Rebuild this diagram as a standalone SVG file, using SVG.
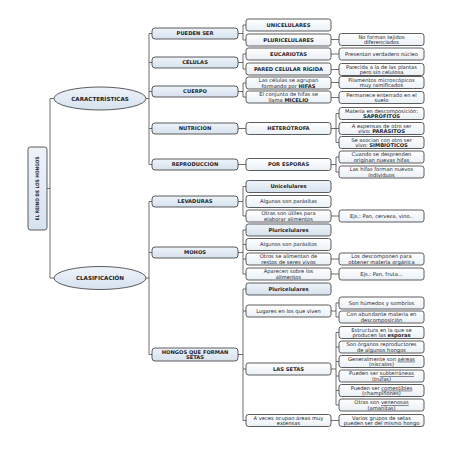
<svg xmlns="http://www.w3.org/2000/svg" width="453" height="453" viewBox="0 0 453 453">
<defs>
<linearGradient id="gw" x1="0" y1="0" x2="0" y2="1"><stop offset="0" stop-color="#ffffff"/><stop offset="1" stop-color="#eaf0f6"/></linearGradient>
<linearGradient id="gb" x1="0" y1="0" x2="0" y2="1"><stop offset="0" stop-color="#eef3f9"/><stop offset="1" stop-color="#d6e2ee"/></linearGradient>
</defs>
<style>
rect,ellipse{stroke:#4a4a4a;stroke-width:0.9}
.l2{fill:url(#gb)}
.bx{fill:url(#gw)}
.hd{fill:url(#gb)}
text{font-family:"DejaVu Sans",Verdana,sans-serif;fill:#1e1e2a;text-anchor:middle;font-size:5.2px}
.b{font-weight:bold}
.u{text-decoration:underline}
#conn path{fill:none;stroke:#4a4a4a;stroke-width:0.8}
</style>
<rect width="453" height="453" fill="#ffffff" style="stroke:none"/>

<g id="conn">
<path d="M47,188.5H50M50,98.5V278M50,98.5H54M50,278H54"/>
<path d="M146,98.5H149M149,33.5V164.5M149,33.5H152M149,62.5H152M149,91.5H152M149,128.5H152M149,164.5H152"/>
<path d="M146,278H149M149,201.5V354.5M149,201.5H152M149,252.5H152M149,354.5H152"/>
<path d="M238,33.5H243M243,25V40M243,25H246M243,40H246"/>
<path d="M238,62.5H243M243,54V69M243,54H246M243,69H246"/>
<path d="M238,91.5H243M243,83V97M243,83H246M243,97H246"/>
<path d="M238,128.5H246"/>
<path d="M238,164.5H246"/>
<path d="M238,201.5H243M243,186.5V216M243,186.5H246M243,216H246"/>
<path d="M238,252.5H243M243,230V274M243,230H246M243,244.5H246M243,259H246M243,274H246"/>
<path d="M238,354.5H243M243,289V420.5M243,289H246M243,311H246M243,369H246M243,420.5H246"/>
<path d="M331,39.5H339M331,54H339M331,69.5H339M331,82.5H339M331,97.5H339"/>
<path d="M331,128.5H336M336,113.5V142.5M336,113.5H339M336,142.5H339M336,128.5H339"/>
<path d="M331,164.5H336M336,157V172M336,157H339M336,172H339"/>
<path d="M331,216H339M331,259H339M331,274H339"/>
<path d="M331,311H336M336,303V317M336,303H339M336,317H339"/>
<path d="M331,369H336M336,332.5V405M336,332.5H339M336,347H339M336,361.5H339M336,376H339M336,390.5H339M336,405H339"/>
<path d="M331,420.5H339"/>
</g>

<g id="root"><rect x="28" y="147" width="19" height="83" rx="2.5" class="l2"/><text class="b" transform="translate(39.3,188.5) rotate(-90)" style="font-size:4.8px" textLength="64" lengthAdjust="spacingAndGlyphs">EL REINO DE LOS HONGOS</text></g>

<g id="caracteristicas"><ellipse cx="100" cy="98.5" rx="46" ry="11.5" class="l2"/><text class="b" x="100" y="100.5" style="font-size:5.6px">CARACTERÍSTICAS</text></g>
<g id="clasificacion"><ellipse cx="100" cy="278" rx="46" ry="11.5" class="l2"/><text class="b" x="100" y="280" style="font-size:5.6px">CLASIFICACIÓN</text></g>

<g id="pueden-ser"><rect x="152" y="28" width="86" height="11" rx="3" class="l2"/><text class="b" x="195" y="35.4">PUEDEN SER</text></g>
<g id="celulas"><rect x="152" y="57" width="86" height="11" rx="3" class="l2"/><text class="b" x="195" y="64.4">CÉLULAS</text></g>
<g id="cuerpo"><rect x="152" y="86" width="86" height="11" rx="3" class="l2"/><text class="b" x="195" y="93.4">CUERPO</text></g>
<g id="nutricion"><rect x="152" y="123" width="86" height="11" rx="3" class="l2"/><text class="b" x="195" y="130.4">NUTRICIÓN</text></g>
<g id="reproduccion"><rect x="152" y="159" width="86" height="11" rx="3" class="l2"/><text class="b" x="195" y="166.4">REPRODUCCIÓN</text></g>
<g id="levaduras"><rect x="152" y="196" width="86" height="11" rx="3" class="l2"/><text class="b" x="195" y="203.4">LEVADURAS</text></g>
<g id="mohos"><rect x="152" y="247" width="86" height="11" rx="3" class="l2"/><text class="b" x="195" y="254.4">MOHOS</text></g>
<g id="setas-grupo"><rect x="152" y="348" width="86" height="13" rx="3" class="l2"/><text class="b" x="195" y="353.6">HONGOS QUE FORMAN</text><text class="b" x="195" y="359">SETAS</text></g>

<g id="unicelulares"><rect x="246" y="19" width="85" height="12" rx="2.5" class="bx"/><text class="b" x="288.5" y="26.9">UNICELULARES</text></g>
<g id="pluricelulares"><rect x="246" y="34" width="85" height="12" rx="2.5" class="bx"/><text class="b" x="288.5" y="41.9">PLURICELULARES</text></g>
<g id="eucariotas"><rect x="246" y="48" width="85" height="12" rx="2.5" class="bx"/><text class="b" x="288.5" y="55.9">EUCARIOTAS</text></g>
<g id="pared"><rect x="246" y="63" width="85" height="12" rx="2.5" class="bx"/><text class="b" x="288.5" y="70.9">PARED CELULAR RÍGIDA</text></g>
<g id="hifas"><rect x="246" y="77" width="85" height="12" rx="2.5" class="bx"/><text x="288.5" y="82.2">Las células se agrupan</text><text x="288.5" y="87.6">formando por <tspan class="b">HIFAS</tspan></text></g>
<g id="micelio"><rect x="246" y="91" width="85" height="12" rx="2.5" class="bx"/><text x="288.5" y="96.2">El conjunto de hifas se</text><text x="288.5" y="101.6">llama <tspan class="b">MICELIO</tspan></text></g>
<g id="heterotrofa"><rect x="246" y="122.5" width="85" height="12" rx="2.5" class="bx"/><text class="b" x="288.5" y="130.4">HETERÓTROFA</text></g>
<g id="por-esporas"><rect x="246" y="158.5" width="85" height="12" rx="2.5" class="bx"/><text class="b" x="288.5" y="166.4">POR ESPORAS</text></g>
<g id="lev-uni"><rect x="246" y="180.5" width="85" height="12" rx="2.5" class="hd"/><text class="b" x="288.5" y="188.4">Unicelulares</text></g>
<g id="lev-parasitas"><rect x="246" y="195.5" width="85" height="12" rx="2.5" class="bx"/><text x="288.5" y="203.4">Algunas son parásitas</text></g>
<g id="lev-utiles"><rect x="246" y="210" width="85" height="12" rx="2.5" class="bx"/><text x="288.5" y="215.2">Otras son útiles para</text><text x="288.5" y="220.6">elaborar alimentos</text></g>
<g id="moh-pluri"><rect x="246" y="224" width="85" height="12" rx="2.5" class="hd"/><text class="b" x="288.5" y="231.9">Pluricelulares</text></g>
<g id="moh-parasitos"><rect x="246" y="238.5" width="85" height="12" rx="2.5" class="bx"/><text x="288.5" y="246.4">Algunos son parásitos</text></g>
<g id="moh-restos"><rect x="246" y="253" width="85" height="12" rx="2.5" class="bx"/><text x="288.5" y="258.2">Otros se alimentan de</text><text x="288.5" y="263.6">restos de seres vivos</text></g>
<g id="moh-alimentos"><rect x="246" y="268" width="85" height="12" rx="2.5" class="bx"/><text x="288.5" y="273.2">Aparecen sobre los</text><text x="288.5" y="278.6">alimentos</text></g>
<g id="set-pluri"><rect x="246" y="283" width="85" height="12" rx="2.5" class="hd"/><text class="b" x="288.5" y="290.9">Pluricelulares</text></g>
<g id="set-lugares"><rect x="246" y="305" width="85" height="12" rx="2.5" class="bx"/><text x="288.5" y="312.9">Lugares en los que viven</text></g>
<g id="las-setas"><rect x="246" y="363" width="85" height="12" rx="2.5" class="bx"/><text class="b" x="288.5" y="370.9">LAS SETAS</text></g>
<g id="set-areas"><rect x="246" y="414.5" width="85" height="12" rx="2.5" class="bx"/><text x="288.5" y="419.7">A veces ocupan áreas muy</text><text x="288.5" y="425.1">extensas</text></g>

<g id="n-tejidos"><rect x="339" y="33.5" width="85" height="12" rx="2.5" class="bx"/><text x="381.5" y="38.7">No forman tejidos</text><text x="381.5" y="44.1">diferenciados</text></g>
<g id="n-nucleo"><rect x="339" y="48" width="85" height="12" rx="2.5" class="bx"/><text x="381.5" y="55.9">Presentan verdadero núcleo</text></g>
<g id="n-plantas"><rect x="339" y="63.5" width="85" height="12" rx="2.5" class="bx"/><text x="381.5" y="68.7">Parecida a la de las plantas</text><text x="381.5" y="74.1">pero sin celulosa</text></g>
<g id="n-filamentos"><rect x="339" y="76.5" width="85" height="12" rx="2.5" class="bx"/><text x="381.5" y="81.7">Filamentos microscópicos</text><text x="381.5" y="87.1">muy ramificados</text></g>
<g id="n-suelo"><rect x="339" y="91.5" width="85" height="12" rx="2.5" class="bx"/><text x="381.5" y="96.7">Permanece enterrado en el</text><text x="381.5" y="102.1">suelo</text></g>
<g id="n-saprofitos"><rect x="339" y="107.5" width="85" height="12" rx="2.5" class="bx"/><text x="381.5" y="112.7">Materia en descomposición:</text><text class="b" x="381.5" y="118.1">SAPRÓFITOS</text></g>
<g id="n-parasitos"><rect x="339" y="122.5" width="85" height="12" rx="2.5" class="bx"/><text x="381.5" y="127.7">A expensas de otro ser</text><text x="381.5" y="133.1">vivo: <tspan class="b">PARÁSITOS</tspan></text></g>
<g id="n-simbioticos"><rect x="339" y="136.5" width="85" height="12" rx="2.5" class="bx"/><text x="381.5" y="141.7">Se asocian con otro ser</text><text x="381.5" y="147.1">vivo: <tspan class="b">SIMBIÓTICOS</tspan></text></g>
<g id="n-desprenden"><rect x="339" y="151" width="85" height="12" rx="2.5" class="bx"/><text x="381.5" y="156.2">Cuando se desprenden</text><text x="381.5" y="161.6">originan nuevas hifas</text></g>
<g id="n-individuos"><rect x="339" y="166" width="85" height="12" rx="2.5" class="bx"/><text x="381.5" y="171.2">Las hifas forman nuevos</text><text x="381.5" y="176.6">individuos</text></g>
<g id="n-cerveza"><rect x="339" y="210" width="85" height="12" rx="2.5" class="bx"/><text x="381.5" y="217.9">Ejs.: Pan, cerveza, vino..</text></g>
<g id="n-descomponen"><rect x="339" y="253" width="85" height="12" rx="2.5" class="bx"/><text x="381.5" y="258.2">Los descomponen para</text><text x="381.5" y="263.6">obtener materia orgánica</text></g>
<g id="n-fruta"><rect x="339" y="268" width="85" height="12" rx="2.5" class="bx"/><text x="381.5" y="275.9">Ejs.: Pan, fruta...</text></g>
<g id="n-humedos"><rect x="339" y="297" width="85" height="12" rx="2.5" class="bx"/><text x="381.5" y="304.9">Son húmedos y sombríos</text></g>
<g id="n-abundante"><rect x="339" y="311" width="85" height="12" rx="2.5" class="bx"/><text x="381.5" y="316.2">Con abundante materia en</text><text x="381.5" y="321.6">descomposición</text></g>
<g id="n-estructura"><rect x="339" y="326.5" width="85" height="12" rx="2.5" class="bx"/><text x="381.5" y="331.7">Estructura en la que se</text><text x="381.5" y="337.1">producen las <tspan class="b">esporas</tspan></text></g>
<g id="n-organos"><rect x="339" y="341" width="85" height="12" rx="2.5" class="bx"/><text x="381.5" y="346.2">Son órganos reproductores</text><text x="381.5" y="351.6">de algunos hongos</text></g>
<g id="n-aereas"><rect x="339" y="355.5" width="85" height="12" rx="2.5" class="bx"/><text x="381.5" y="360.7">Generalmente son <tspan class="u">aéreas</tspan></text><text x="381.5" y="366.1">(níscalos)</text></g>
<g id="n-subterraneas"><rect x="339" y="370" width="85" height="12" rx="2.5" class="bx"/><text x="381.5" y="375.2">Pueden ser <tspan class="u">subterráneas</tspan></text><text x="381.5" y="380.6">(trufas)</text></g>
<g id="n-comestibles"><rect x="339" y="384.5" width="85" height="12" rx="2.5" class="bx"/><text x="381.5" y="389.7">Pueden ser <tspan class="u">comestibles</tspan></text><text x="381.5" y="395.1">(champiñones)</text></g>
<g id="n-venenosas"><rect x="339" y="399" width="85" height="12" rx="2.5" class="bx"/><text x="381.5" y="404.2">Otras son <tspan class="u">venenosas</tspan></text><text x="381.5" y="409.6">(amanitas)</text></g>
<g id="n-mismo-hongo"><rect x="339" y="414.5" width="85" height="12" rx="2.5" class="bx"/><text x="381.5" y="419.7">Varios grupos de setas</text><text x="381.5" y="425.1">pueden ser del mismo hongo</text></g>
</svg>
